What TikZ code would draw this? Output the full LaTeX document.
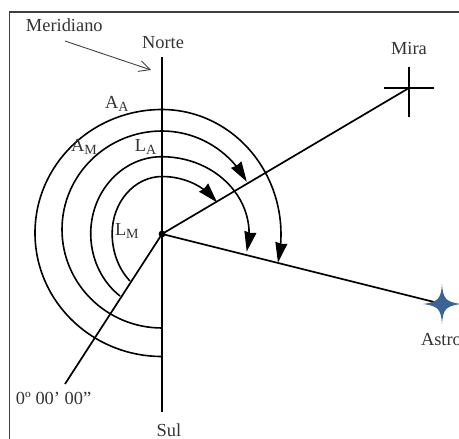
\documentclass[tikz,border=0pt]{standalone}
\usepackage{fontspec}
\setmainfont{Liberation Serif}
\usetikzlibrary{arrows.meta,bending}
\definecolor{txt}{HTML}{333333}
\definecolor{starblue}{HTML}{3A6496}
\newcommand{\lowsub}[2]{#1\raisebox{-3.5pt}{\fontsize{14}{14}\selectfont #2}}
\tikzset{
  lbl/.style={text=txt,font=\fontsize{18.4}{18.4}\selectfont,inner sep=0pt,outer sep=0pt},
  axisline/.style={line width=1.7pt,black},
  arcline/.style={line width=1.6pt,black,-{Stealth[length=20pt,width=12pt,inset=1pt,flex=0.6]}},
  frameline/.style={line width=1.3pt,black!75},
  pointer/.style={line width=0.9pt,black!75,-{Straight Barb[length=11pt,width=11pt]}}
}
\begin{document}
\begin{tikzpicture}[x=1pt,y=1pt]
\useasboundingbox (0,0) rectangle (459,439);
\clip (0,0) rectangle (459,439);
\coordinate (O) at (162,205);
\coordinate (N) at (162,382);
\coordinate (S) at (162,27);
\coordinate (Z) at (65,55);
\coordinate (M) at (409,351);
\coordinate (A) at (442,135);
\coordinate (PA) at (65,398);
\coordinate (PB) at (151,369);
\draw[frameline] (9.5,0) -- (9.5,427) -- (459,427);
\draw[axisline] (N) -- (S);
\draw[axisline] (O) -- (Z);
\draw[axisline] (O) -- (M);
\draw[axisline] (O) -- (A);
\draw[line width=1.7pt] (384,351) -- (434,351);
\draw[line width=1.7pt] (409,372) -- (409,322);
\fill (O) circle (3.4pt);
\draw[pointer] (PA) -- (PB);
\draw[arcline] (162,82.5) arc[start angle=270,end angle=90,x radius=127pt,y radius=123.5pt]
  arc[start angle=90,end angle=-13,x radius=119pt,y radius=125pt];
\draw[arcline] (162,111) arc[start angle=270,end angle=90,x radius=100pt,y radius=98.5pt]
  arc[start angle=90,end angle=29,x radius=97pt,y radius=98.5pt];
\draw[arcline] (120,143) arc[start angle=234,end angle=90,x radius=71pt,y radius=77pt]
  arc[start angle=90,end angle=-13.5,x radius=87.4pt,y radius=77pt];
\draw[arcline] (130,158) arc[start angle=230,end angle=180,x radius=50pt,y radius=62pt]
  arc[start angle=180,end angle=90,x radius=50pt,y radius=57pt]
  arc[start angle=90,end angle=33,x radius=65.6pt,y radius=57pt];
\fill[starblue] (442,155) .. controls (443,140) and (446,137) .. (461,135)
  .. controls (446,133) and (443,130) .. (442,115)
  .. controls (441,130) and (438,133) .. (423,135)
  .. controls (438,137) and (441,140) .. (442,155) -- cycle;
\node[lbl,anchor=west] (tmer) at (26,414) {Meridiano};
\node[lbl] (tnor) at (163,396) {Norte};
\node[lbl] (tmir) at (409,390) {Mira};
\node[lbl,anchor=west] (tast) at (421,99) {Astro};
\node[lbl,anchor=base] (tsul) at (169,2) {Sul};
\node[lbl,anchor=west] (tzer) at (16,41) {0º 00’ 00”};
\node[lbl,anchor=west] (taa) at (105,335) {\lowsub{A}{A}};
\node[lbl,anchor=west] (tam) at (71,292) {\lowsub{A}{M}};
\node[lbl,anchor=west] (tla) at (135,292) {\lowsub{L}{A}};
\node[lbl,anchor=west] (tlm) at (115,208) {\lowsub{L}{M}};
\end{tikzpicture}
\end{document}
